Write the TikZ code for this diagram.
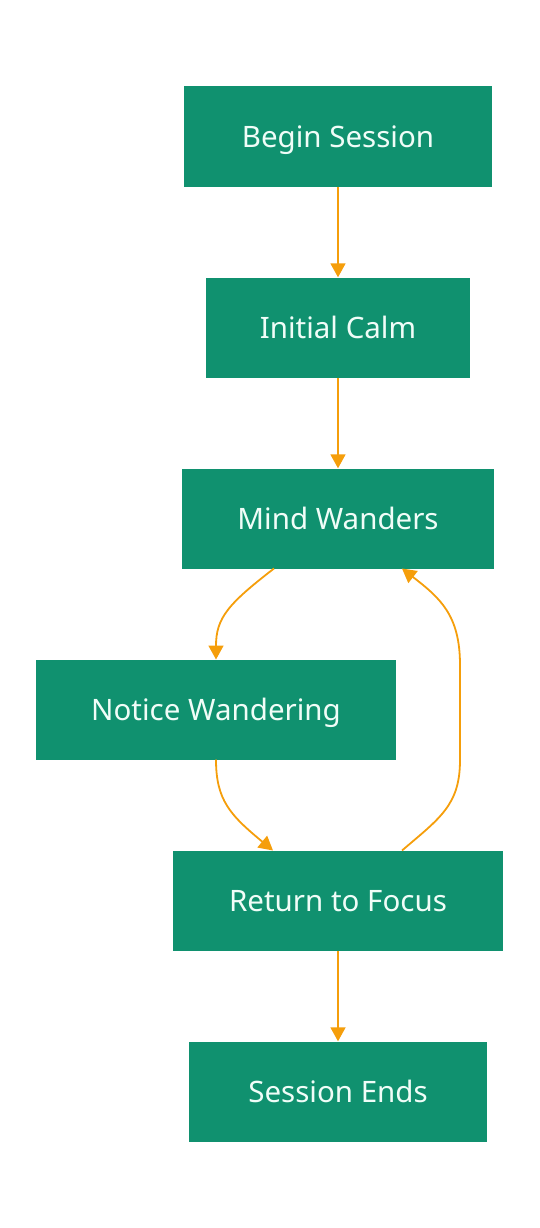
\documentclass[tikz,border=0pt]{standalone}
\usepackage{fontspec}
\setmainfont{Noto Sans}
\usetikzlibrary{arrows.meta}
\definecolor{boxfill}{HTML}{10916F}
\definecolor{boxtext}{HTML}{F0FDF8}
\definecolor{arrowc}{HTML}{F59E0B}
\begin{document}
\begin{tikzpicture}[x=1pt,y=-1pt,
  flowbox/.style={rectangle, fill=boxfill, text=boxtext, inner sep=0pt,
    minimum height=100pt, text height=21pt, text depth=0pt,
    font=\fontsize{29.5}{34}\selectfont},
  flowarrow/.style={draw=arrowc, line width=1.8pt,
    -{Triangle[length=14pt,width=15pt]}}]
\useasboundingbox (0,0) rectangle (540,1228);
\node[flowbox, minimum width=308pt] (begin) at (338,136.5) {Begin Session};
\node[flowbox, minimum width=264pt] (calm) at (338,327.5) {Initial Calm};
\node[flowbox, minimum width=312pt] (mind) at (338,518.5) {Mind Wanders};
\node[flowbox, minimum width=360pt] (notice) at (216,709.5) {Notice Wandering};
\node[flowbox, minimum width=330pt] (focus) at (338,900.5) {Return to Focus};
\node[flowbox, minimum width=298pt] (ends) at (338,1091.5) {Session Ends};
\coordinate (m1) at (274,568.5);
\coordinate (n1) at (216,659.5);
\coordinate (n2) at (216,759.5);
\coordinate (f1) at (273,850.5);
\coordinate (f2) at (402,850.5);
\coordinate (m2) at (402,568.5);
\draw[flowarrow] (begin) -- (calm);
\draw[flowarrow] (calm) -- (mind);
\draw[flowarrow] (m1) .. controls (228,604) and (216,618) .. (n1);
\draw[flowarrow] (n2) .. controls (216,800) and (230,815) .. (f1);
\draw[flowarrow] (f2) .. controls (440,818) and (460,805) .. (460,760)
  -- (460,665) .. controls (460,615) and (440,598) .. (m2);
\draw[flowarrow] (focus) -- (ends);
\end{tikzpicture}
\end{document}
